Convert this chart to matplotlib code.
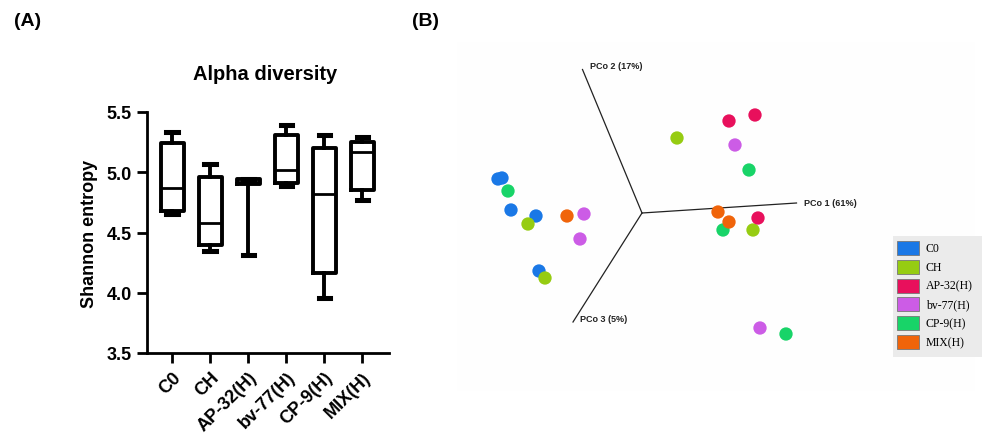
import matplotlib
matplotlib.use("Agg")
import matplotlib.pyplot as plt
from matplotlib.patches import Rectangle

plt.rcParams['font.family'] = ['Liberation Sans', 'DejaVu Sans']

# ---------------- Data ----------------
groups = ["C0", "CH", "AP-32(H)", "bv-77(H)", "CP-9(H)", "MIX(H)"]
whisk_lo = [4.65, 4.35, 4.31, 4.89, 3.96, 4.77]
q1       = [4.68, 4.40, 4.90, 4.91, 4.16, 4.85]
median   = [4.87, 4.58, 4.92, 5.02, 4.82, 5.165]
q3       = [5.24, 4.96, 4.94, 5.31, 5.20, 5.25]
whisk_hi = [5.33, 5.07, 4.94, 5.39, 5.31, 5.29]

colors = {"C0": "#1a78e6", "CH": "#96cc12", "AP-32(H)": "#e8105c",
          "bv-77(H)": "#cc5ce6", "CP-9(H)": "#18d468", "MIX(H)": "#f0640a"}

# PCoA projected coordinates (2D projection of 3D ordination)
c0_x = [-1.40, -1.44, -1.31, -1.06, -1.03]
c0_y = [0.35, 0.34, 0.03, -0.03, -0.58]
ch_x = [0.35, -1.14, -0.97, 1.11]
ch_y = [0.75, -0.11, -0.65, -0.17]
ap_x = [0.87, 1.13, 1.16]
ap_y = [0.92, 0.98, -0.05]
bv_x = [0.93, -0.58, -0.62, 1.18]
bv_y = [0.68, -0.01, -0.26, -1.15]
cp_x = [-1.34, 1.07, 0.81, 1.44]
cp_y = [0.22, 0.43, -0.17, -1.21]
mix_x = [-0.75, 0.76, 0.87]
mix_y = [-0.03, 0.01, -0.09]

axis_names = ["PCo 1 (61%)", "PCo 2 (17%)", "PCo 3 (5%)"]
axis_end_x = [1.545, -0.595, -0.69]
axis_end_y = [0.10, 1.435, -1.09]

# ---------------- Figure ----------------
W, H = 982, 435
fig = plt.figure(figsize=(W / 100, H / 100), dpi=100)

# Panel A
axA = fig.add_axes([147 / W, (H - 354) / H, (389 - 147) / W, (354 - 113) / H])
stats = []
for i, g in enumerate(groups):
    stats.append(dict(label=g, whislo=whisk_lo[i], q1=q1[i], med=median[i],
                      q3=q3[i], whishi=whisk_hi[i], fliers=[]))
lw = 2.8
axA.bxp(stats, positions=range(len(groups)), widths=0.6, showfliers=False,
        boxprops=dict(linewidth=lw, color='black'),
        medianprops=dict(linewidth=2.0, color='black'),
        whiskerprops=dict(linewidth=lw, color='black'),
        capprops=dict(linewidth=lw * 1.3, color='black'),
        capwidths=0.3)
axA.set_ylim(3.5, 5.5)
axA.set_xlim(-0.66, 5.7)
axA.set_yticks([3.5, 4.0, 4.5, 5.0, 5.5])
axA.set_yticklabels(["3.5", "4.0", "4.5", "5.0", "5.5"])
axA.set_xticks(range(len(groups)))
axA.set_xticklabels(groups, rotation=45, ha='right', rotation_mode='anchor')
for lab in axA.get_xticklabels() + axA.get_yticklabels():
    lab.set_fontweight('bold')
    lab.set_fontsize(13)
axA.tick_params(axis='both', width=2, length=7, direction='out', pad=4)
axA.spines['top'].set_visible(False)
axA.spines['right'].set_visible(False)
axA.spines['left'].set_linewidth(2)
axA.spines['bottom'].set_linewidth(2)
axA.set_ylabel("Shannon entropy", fontsize=13, fontweight='bold', labelpad=6)
fig.text(265 / W, 1 - 75 / H, "Alpha diversity", fontsize=14.5,
         fontweight='bold', ha='center', va='center')

fig.text(14 / W, 1 - 22 / H, "(A)", fontsize=14, fontweight='bold',
         ha='left', va='center')
fig.text(412 / W, 1 - 22 / H, "(B)", fontsize=14, fontweight='bold',
         ha='left', va='center')

# Panel B background
fig.patches.append(Rectangle((457 / W, 1 - 392 / H), (975 - 457) / W, (392 - 43) / H,
                             transform=fig.transFigure, facecolor='#fefefe',
                             edgecolor='none', zorder=-5))
# map: x_px = 642 + 100*x ; y_px = 214 - 100*y
x0, x1 = -1.95, 2.38
y0, y1 = -1.45, 1.72
axB = fig.add_axes([(642 + 100 * x0) / W, (H - (214 - 100 * y0)) / H,
                    100 * (x1 - x0) / W, 100 * (y1 - y0) / H])
axB.set_xlim(x0, x1)
axB.set_ylim(y0, y1)
axB.axis('off')
for ex, ey in zip(axis_end_x, axis_end_y):
    axB.plot([0, ex], [0, ey], color='#222222', lw=0.9, zorder=1)
axB.text(axis_end_x[0] + 0.08, axis_end_y[0], axis_names[0], fontsize=6.5,
         fontweight='bold', ha='left', va='center', color='#222222')
axB.text(axis_end_x[1] + 0.07, axis_end_y[1] + 0.04, axis_names[1], fontsize=6.5,
         fontweight='bold', ha='left', va='center', color='#222222')
axB.text(axis_end_x[2] + 0.07, axis_end_y[2] + 0.03, axis_names[2], fontsize=6.5,
         fontweight='bold', ha='left', va='center', color='#222222')

series = [("C0", c0_x, c0_y), ("CH", ch_x, ch_y), ("AP-32(H)", ap_x, ap_y),
          ("bv-77(H)", bv_x, bv_y), ("CP-9(H)", cp_x, cp_y), ("MIX(H)", mix_x, mix_y)]
for name, xs, ys in series:
    axB.scatter(xs, ys, s=92, color=colors[name], edgecolors='none', zorder=3)

# Legend
fig.patches.append(Rectangle((893 / W, 1 - 358 / H), (982 - 893) / W, (358 - 237) / H,
                             transform=fig.transFigure, facecolor='#ebebeb',
                             edgecolor='none', zorder=1))
for i, g in enumerate(groups):
    yc = 249 + i * 18.8
    fig.patches.append(Rectangle((897 / W, 1 - (yc + 7) / H), 22 / W, 14 / H,
                                 transform=fig.transFigure, facecolor=colors[g],
                                 edgecolor='#777777', linewidth=0.6, zorder=2))
    fig.text(926 / W, 1 - yc / H, g, fontsize=8.5, family='Liberation Serif',
             ha='left', va='center', zorder=3)

fig.savefig("out.png", dpi=100)
